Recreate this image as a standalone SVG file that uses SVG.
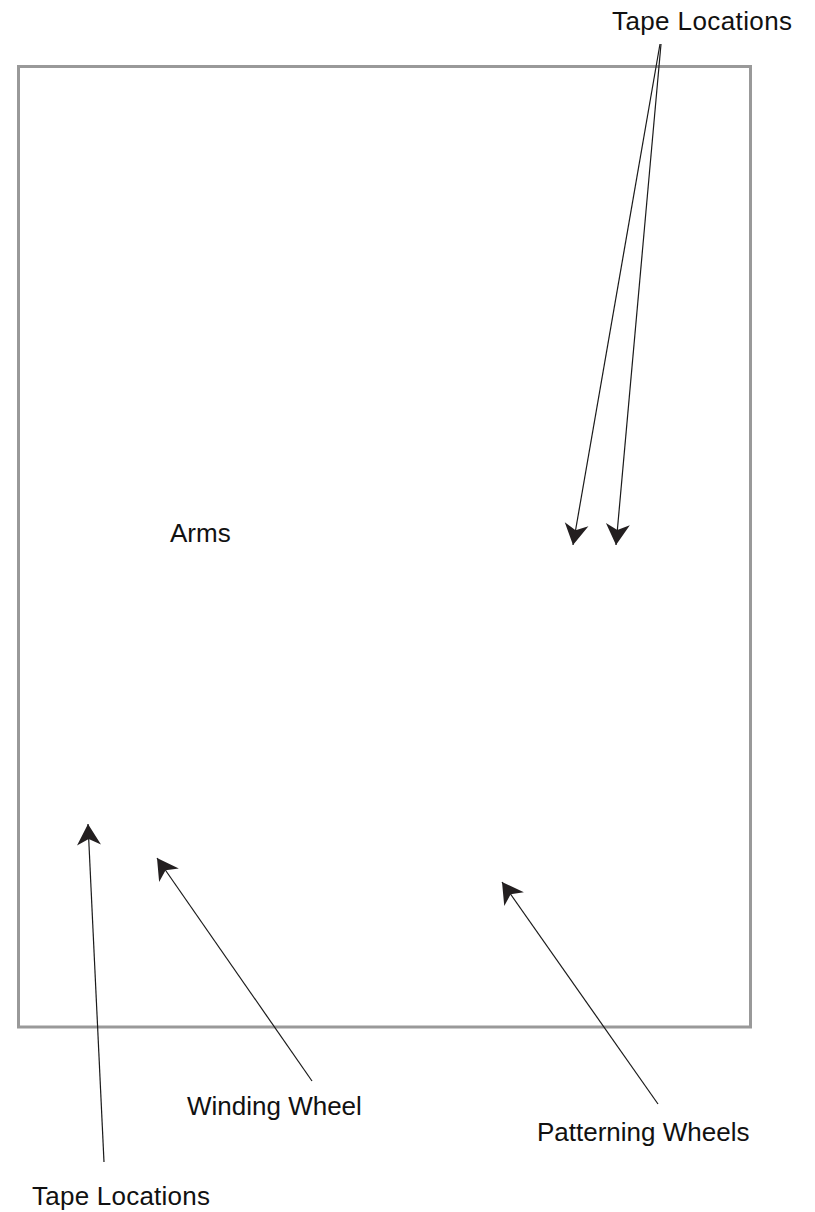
<svg xmlns="http://www.w3.org/2000/svg" width="815" height="1212" viewBox="0 0 815 1212">
<style>
.lbl{font-family:"Liberation Sans",Arial,sans-serif;font-size:26px;fill:#111}
.ln{stroke:#1a1a1a;stroke-width:1.2;fill:none;marker-end:url(#ah)}
</style>
<defs>
<marker id="ah" markerUnits="userSpaceOnUse" viewBox="-22 -13 23 26" refX="0" refY="0" markerWidth="23" markerHeight="26" orient="auto">
<path d="M0,0 L-21,-12 L-15,0 L-21,12 Z" fill="#231f20"/>
</marker>
</defs>
<rect id="frame" x="18.5" y="66.5" width="732" height="960.5" fill="#fff" stroke="#999" stroke-width="3"/>
<g id="connectors">
<line class="ln" x1="660" y1="44" x2="573" y2="545"/>
<line class="ln" x1="661" y1="44" x2="616" y2="545"/>
<line class="ln" x1="104" y1="1162" x2="88" y2="824"/>
<line class="ln" x1="312" y1="1081" x2="157" y2="858"/>
<line class="ln" x1="658" y1="1104" x2="502" y2="882"/>
</g>
<g id="label-tape-top"><text class="lbl" x="612" y="30" textLength="180">Tape Locations</text></g>
<g id="label-arms"><text class="lbl" x="170" y="542">Arms</text></g>
<g id="label-winding"><text class="lbl" x="187" y="1115">Winding Wheel</text></g>
<g id="label-patterning"><text class="lbl" x="537" y="1141">Patterning Wheels</text></g>
<g id="label-tape-bottom"><text class="lbl" x="32" y="1205" textLength="178">Tape Locations</text></g>
</svg>
